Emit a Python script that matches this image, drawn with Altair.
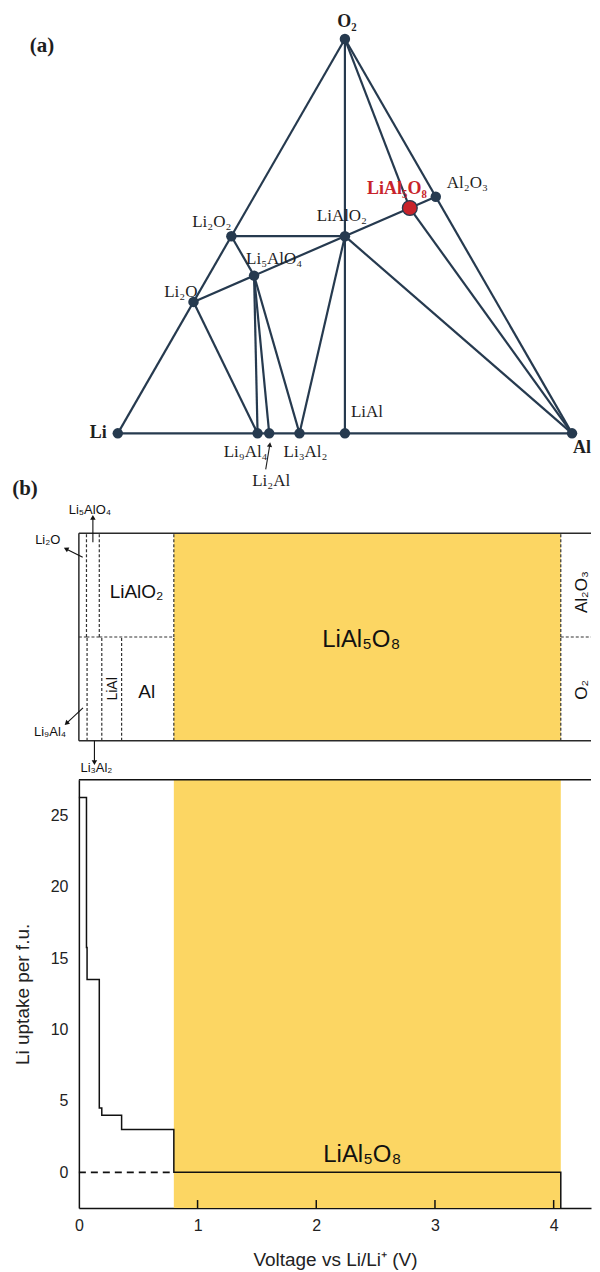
import math
import altair as alt
import pandas as pd

# ---------------- panel (a): Li-Al-O ternary phase diagram ----------------
phase_names = ["Li", "Al", "O₂", "Li₂O", "Li₂O₂", "Li₅AlO₄", "LiAlO₂",
               "LiAl₅O₈", "Al₂O₃", "Li₉Al₄", "Li₂Al", "Li₃Al₂", "LiAl"]
phase_li = [1, 0, 0, 2, 2, 5, 1, 1, 0, 9, 2, 3, 1]
phase_al = [0, 1, 0, 0, 0, 1, 1, 5, 2, 4, 1, 2, 1]
phase_o = [0, 0, 2, 1, 2, 4, 2, 8, 3, 0, 0, 0, 0]
highlight = "LiAl₅O₈"

tie_from = ["Li", "Li", "Al", "Li₂O", "Li₂O₂", "O₂", "LiAlO₂", "O₂", "LiAl₅O₈",
            "LiAlO₂", "LiAlO₂", "Li₂O₂", "Li₂O", "Li₅AlO₄", "Li₅AlO₄", "Li₅AlO₄"]
tie_to = ["Al", "O₂", "O₂", "Al₂O₃", "LiAlO₂", "LiAlO₂", "LiAl", "LiAl₅O₈", "Al",
          "Al", "Li₃Al₂", "Li₅AlO₄", "Li₉Al₄", "Li₉Al₄", "Li₂Al", "Li₃Al₂"]

# ---------------- panel (b): phase evolution vs voltage ----------------
top_phases = ["Li₂O", "Li₅AlO₄", "LiAlO₂", "LiAl₅O₈", "Al₂O₃"]
top_bounds = [0.0, 0.064, 0.172, 0.80, 4.06]
bottom_phases = ["Li₉Al₄", "Li₃Al₂", "LiAl", "Al", "LiAl₅O₈", "O₂"]
bottom_bounds = [0.0, 0.069, 0.193, 0.36, 0.80, 4.06]
single_phase = "LiAl₅O₈"
callout_phases = ["Li₂O", "Li₅AlO₄", "Li₉Al₄", "Li₃Al₂"]

step_voltage = [0.0, 0.064, 0.069, 0.172, 0.193, 0.36, 0.80, 4.06]
step_uptake = [26.25, 15.75, 13.5, 4.5, 4.0, 3.0, 0.0]
x_ticks = [0, 1, 2, 3, 4]
y_ticks = [0, 5, 10, 15, 20, 25]

# ---------------- layout / style ----------------
W = 513
HA, HBT, HBB = 492, 279, 429
PX_PER_V = 118.9
XMAX = W / PX_PER_V
A_X = [-0.0857, -0.0857 + W / 455.0]
A_Y = [-0.1469, 0.9318]
BT_Y = [-0.1827, 1.1587]
BB_Y = [-2.5, 27.5]
NAVY = "#263a4f"
RED = "#c8232b"
YELLOW = "#fcd663"
INK = "#1e1e1e"
SERIF = "Liberation Serif"
SANS = "Liberation Sans"

pxA_x = W / (A_X[1] - A_X[0])
pxA_y = HA / (A_Y[1] - A_Y[0])
pxV = W / XMAX
pxBT = HBT / (BT_Y[1] - BT_Y[0])
pxBB = HBB / (BB_Y[1] - BB_Y[0])


def tern(li, al, o):
    n = li + al + o
    return al / n + 0.5 * o / n, math.sqrt(3) / 2 * o / n


pos = {n: tern(a, b, c) for n, a, b, c in zip(phase_names, phase_li, phase_al, phase_o)}
nodes = pd.DataFrame({"name": phase_names,
                      "X": [pos[n][0] for n in phase_names],
                      "Y": [pos[n][1] for n in phase_names]})
ties = pd.DataFrame({"X": [pos[a][0] for a in tie_from], "Y": [pos[a][1] for a in tie_from],
                     "X2": [pos[b][0] for b in tie_to], "Y2": [pos[b][1] for b in tie_to]})

xa = alt.Scale(domain=A_X, nice=False, zero=False)
ya = alt.Scale(domain=A_Y, nice=False, zero=False)
XA = alt.X("X:Q", scale=xa, axis=None)
YA = alt.Y("Y:Q", scale=ya, axis=None)

layers_a = [
    alt.Chart(ties).mark_rule(color=NAVY, strokeWidth=2.2).encode(x=XA, y=YA, x2="X2:Q", y2="Y2:Q"),
    alt.Chart(nodes[nodes.name != highlight]).mark_circle(size=110, color=NAVY, opacity=1).encode(x=XA, y=YA),
    alt.Chart(nodes[nodes.name == highlight]).mark_point(shape="circle", size=220, filled=True, fill=RED,
                                                          stroke=NAVY, strokeWidth=1.3, opacity=1).encode(x=XA, y=YA),
]

a_label_style = {
    "O₂": dict(dx=2, dy=-17, align="center", bold=True),
    "LiAl₅O₈": dict(dx=17, dy=-19, align="right", bold=True, color=RED),
    "Al₂O₃": dict(dx=11, dy=-14, align="left"),
    "LiAlO₂": dict(dx=-3, dy=-20, align="center"),
    "Li₂O₂": dict(dx=0, dy=-14, align="right"),
    "Li₅AlO₄": dict(dx=-8, dy=-17, align="left"),
    "Li₂O": dict(dx=4, dy=-10, align="right"),
    "LiAl": dict(dx=6, dy=-21, align="left"),
    "Li": dict(dx=-11, dy=0, align="right", bold=True),
    "Al": dict(dx=1, dy=15, align="left", bold=True),
    "Li₉Al₄": dict(dx=10, dy=19, align="right"),
    "Li₃Al₂": dict(dx=6, dy=19, align="center"),
    "Li₂Al": dict(dx=2, dy=48, align="center"),
}
for name, st in a_label_style.items():
    layers_a.append(
        alt.Chart(nodes[nodes.name == name]).mark_text(
            font=SERIF, fontSize=18 if st.get("bold") else 17,
            fontWeight="bold" if st.get("bold") else "normal",
            color=st.get("color", INK), align=st["align"], baseline="middle",
            dx=st["dx"], dy=st["dy"]).encode(x=XA, y=YA, text="name:N"))

# small arrow pointing to Li2Al
lx, ly = pos["Li₂Al"]
tail = (lx - 3.5 / pxA_x, ly - 36 / pxA_y)
tip = (lx + 0.5 / pxA_x, ly - 12 / pxA_y)
arr = pd.DataFrame({"X": [tail[0]], "Y": [tail[1]], "X2": [tip[0]], "Y2": [tip[1]]})
layers_a.append(alt.Chart(arr).mark_rule(color=INK, strokeWidth=1.1).encode(x=XA, y=YA, x2="X2:Q", y2="Y2:Q"))
layers_a.append(alt.Chart(pd.DataFrame({"X": [tip[0]], "Y": [tip[1]]})).mark_point(
    shape="triangle", filled=True, size=28, color=INK, opacity=1, angle=8).encode(x=XA, y=YA))

tag = pd.DataFrame({"t": ["(a)", "(b)"]})
layers_a.append(alt.Chart(tag[tag.t == "(a)"]).mark_text(
    font=SERIF, fontSize=21, fontWeight="bold", color=INK).encode(
    x=alt.value(-37), y=alt.value(37), text="t:N"))
layers_a.append(alt.Chart(tag[tag.t == "(b)"]).mark_text(
    font=SERIF, fontSize=21, fontWeight="bold", color=INK).encode(
    x=alt.value(-54), y=alt.value(481), text="t:N"))

panel_a = alt.layer(*layers_a).properties(width=W, height=HA)

# ---------------- panel (b) top: phase box ----------------
regions = []
for half, phases, bounds in (("top", top_phases, top_bounds), ("bottom", bottom_phases, bottom_bounds)):
    ends = bounds[1:] + [XMAX]
    for p, v0, v1 in zip(phases, bounds, ends):
        lo, hi = (0.5, 1.0) if half == "top" else (0.0, 0.5)
        regions.append(dict(half=half, phase=p, v0=v0, v1=v1, lo=lo, hi=hi))
reg = pd.DataFrame(regions)

xb = alt.Scale(domain=[0, XMAX], nice=False, zero=False)
ybt = alt.Scale(domain=BT_Y, nice=False, zero=False)
XB = alt.X("v0:Q", scale=xb, axis=None)

single = reg[(reg.phase == single_phase) & (reg.half == "top")]
vert = reg[reg.v0 > 0]
mid = reg[(reg.half == "top") & (reg.phase != single_phase)]

frame = pd.DataFrame({"v0": [0, 0, 0], "v1": [XMAX, XMAX, 0], "lo": [1, 0, 0], "hi": [1, 0, 1]})

layers_bt = [
    alt.Chart(single).transform_calculate(b0="0", b1="1").mark_rect(color=YELLOW).encode(
        x=XB, x2="v1:Q", y=alt.Y("b0:Q", scale=ybt, axis=None), y2="b1:Q"),
    alt.Chart(vert).mark_rule(color="#333", strokeWidth=1.2, strokeDash=[3, 2]).encode(
        x=XB, y=alt.Y("lo:Q", scale=ybt, axis=None), y2="hi:Q"),
    alt.Chart(mid).transform_calculate(m="0.5").mark_rule(color="#333", strokeWidth=1.2, strokeDash=[3, 2]).encode(
        x=XB, x2="v1:Q", y=alt.Y("m:Q", scale=ybt, axis=None)),
    alt.Chart(frame).mark_rule(color="#2a2a2a", strokeWidth=1.5).encode(
        x=XB, x2="v1:Q", y=alt.Y("lo:Q", scale=ybt, axis=None), y2="hi:Q"),
]

region_text_style = {
    "LiAlO₂": dict(size=19, angle=0, dx=0, dy=7),
    "Al": dict(size=19, angle=0, dx=-1, dy=3),
    "LiAl": dict(size=14, angle=270, dx=0, dy=1),
    "LiAl₅O₈": dict(size=24, angle=0, dx=-6, dy=3),
    "Al₂O₃": dict(size=17, angle=270, dx=-7, dy=6),
    "O₂": dict(size=17, angle=270, dx=-1, dy=6),
}
lab = reg[~reg.phase.isin(callout_phases)].copy()
lab = lab[~((lab.phase == single_phase) & (lab.half == "bottom"))]
lab["vc"] = (lab.v0 + lab.v1) / 2
lab["yc"] = [0.5 if p == single_phase else (lo + hi) / 2 for p, lo, hi in zip(lab.phase, lab.lo, lab.hi)]
for p, st in region_text_style.items():
    layers_bt.append(alt.Chart(lab[lab.phase == p]).mark_text(
        font=SANS, fontSize=st["size"], angle=st["angle"], dx=st["dx"], dy=st["dy"],
        color="#111", baseline="middle", align="center").encode(
        x=alt.X("vc:Q", scale=xb, axis=None), y=alt.Y("yc:Q", scale=ybt, axis=None), text="phase:N"))

callout_geom = {
    "Li₂O": dict(inset=24, head=(-16, -8), label=(-35, -17), angle=296),
    "Li₅AlO₄": dict(inset=9, head=(0, -24), label=(-3, -32), angle=0),
    "Li₉Al₄": dict(inset=33, head=(-16, 15), label=(-33, 24), angle=227),
    "Li₃Al₂": dict(inset=0, head=(0, 21), label=(2, 27), angle=180),
}
for p, g in callout_geom.items():
    r = reg[reg.phase == p].iloc[0]
    vt = (r.v0 + r.v1) / 2
    yt = (1 - g["inset"] / pxBT) if r.half == "top" else (g["inset"] / pxBT)
    vh = vt + g["head"][0] / pxV
    yh = yt - g["head"][1] / pxBT
    vl = vt + g["label"][0] / pxV
    yl = yt - g["label"][1] / pxBT
    seg = pd.DataFrame({"v0": [vt], "y": [yt], "v1": [vh], "y2": [yh], "vl": [vl], "yl": [yl], "phase": [p]})
    layers_bt.append(alt.Chart(seg).mark_rule(color="#111", strokeWidth=1.1).encode(
        x=XB, x2="v1:Q", y=alt.Y("y:Q", scale=ybt, axis=None), y2="y2:Q"))
    layers_bt.append(alt.Chart(seg).mark_point(shape="triangle", filled=True, size=30, color="#111",
                                               opacity=1, angle=g["angle"]).encode(
        x=alt.X("v1:Q", scale=xb, axis=None), y=alt.Y("y2:Q", scale=ybt, axis=None)))
    layers_bt.append(alt.Chart(seg).mark_text(font=SANS, fontSize=13, color="#111").encode(
        x=alt.X("vl:Q", scale=xb, axis=None), y=alt.Y("yl:Q", scale=ybt, axis=None), text="phase:N"))

panel_bt = alt.layer(*layers_bt).properties(width=W, height=HBT)

# ---------------- panel (b) bottom: Li uptake step curve ----------------
path = []
for i, u in enumerate(step_uptake):
    path.append((step_voltage[i], u))
    path.append((step_voltage[i + 1], u))
path.append((step_voltage[-1], BB_Y[0]))
steps = pd.DataFrame({"v": [p[0] for p in path], "u": [p[1] for p in path], "i": list(range(len(path)))})

xbb = alt.Scale(domain=[0, XMAX], nice=False, zero=False)
ybb = alt.Scale(domain=BB_Y, nice=False, zero=False)

x_axis = alt.Axis(values=x_ticks, format="d", ticks=False, grid=False, domainColor="#111", domainWidth=1.5,
                  labelFont=SANS, labelFontSize=16, labelColor="#222", labelPadding=10, labelFlush=False,
                  title="Voltage vs Li/Li⁺ (V)", titleFont=SANS, titleFontSize=19, titleFontWeight="normal",
                  titleColor="#222", titlePadding=17)
y_axis = alt.Axis(values=y_ticks, format="d", ticks=False, grid=False, domainColor="#111", domainWidth=1.5,
                  labelFont=SANS, labelFontSize=16, labelColor="#222", labelPadding=11,
                  title="Li uptake per f.u.", titleFont=SANS, titleFontSize=19, titleFontWeight="normal",
                  titleColor="#222", titlePadding=18)

yel = pd.DataFrame({"v0": [single.v0.iloc[0]], "v1": [single.v1.iloc[0]], "lo": [BB_Y[0]], "hi": [BB_Y[1]]})
zero_ref = pd.DataFrame({"v0": [0.0], "v1": [single.v0.iloc[0]], "u": [0.0]})
top_line = pd.DataFrame({"v0": [0.0], "v1": [XMAX], "u": [BB_Y[1]]})
tick_len = 8 / pxBB
ticks_df = pd.DataFrame({"v0": x_ticks[1:], "lo": [BB_Y[0]] * 4, "hi": [BB_Y[0] + tick_len] * 4})
lbl_df = pd.DataFrame({"vc": [(single.v0.iloc[0] + single.v1.iloc[0]) / 2], "u": [step_uptake[-1]],
                       "t": [single_phase]})

panel_bb = alt.layer(
    alt.Chart(yel).mark_rect(color=YELLOW).encode(
        x=alt.X("v0:Q", scale=xbb, axis=x_axis), x2="v1:Q",
        y=alt.Y("lo:Q", scale=ybb, axis=y_axis), y2="hi:Q"),
    alt.Chart(top_line).mark_rule(color="#111", strokeWidth=1.5).encode(
        x=alt.X("v0:Q", scale=xbb), x2="v1:Q", y=alt.Y("u:Q", scale=ybb)),
    alt.Chart(ticks_df).mark_rule(color="#111", strokeWidth=1.5).encode(
        x=alt.X("v0:Q", scale=xbb), y=alt.Y("lo:Q", scale=ybb), y2="hi:Q"),
    alt.Chart(zero_ref).mark_rule(color="#111", strokeWidth=1.6, strokeDash=[7, 5]).encode(
        x=alt.X("v0:Q", scale=xbb), x2="v1:Q", y=alt.Y("u:Q", scale=ybb)),
    alt.Chart(steps).mark_line(color="#111", strokeWidth=1.5, interpolate="linear").encode(
        x=alt.X("v:Q", scale=xbb), y=alt.Y("u:Q", scale=ybb), order="i:Q"),
    alt.Chart(lbl_df).mark_text(font=SANS, fontSize=24, color="#111", dx=-5, dy=-17).encode(
        x=alt.X("vc:Q", scale=xbb), y=alt.Y("u:Q", scale=ybb), text="t:N"),
).resolve_axis(x="shared", y="shared").properties(width=W, height=HBB)

chart = alt.vconcat(panel_a, panel_bt, panel_bb, spacing=0).properties(
    padding={"left": 4, "top": 0, "right": 0, "bottom": 0}
).configure_view(stroke=None)

chart.save("out.html", embed_options={"renderer": "svg", "actions": False})
